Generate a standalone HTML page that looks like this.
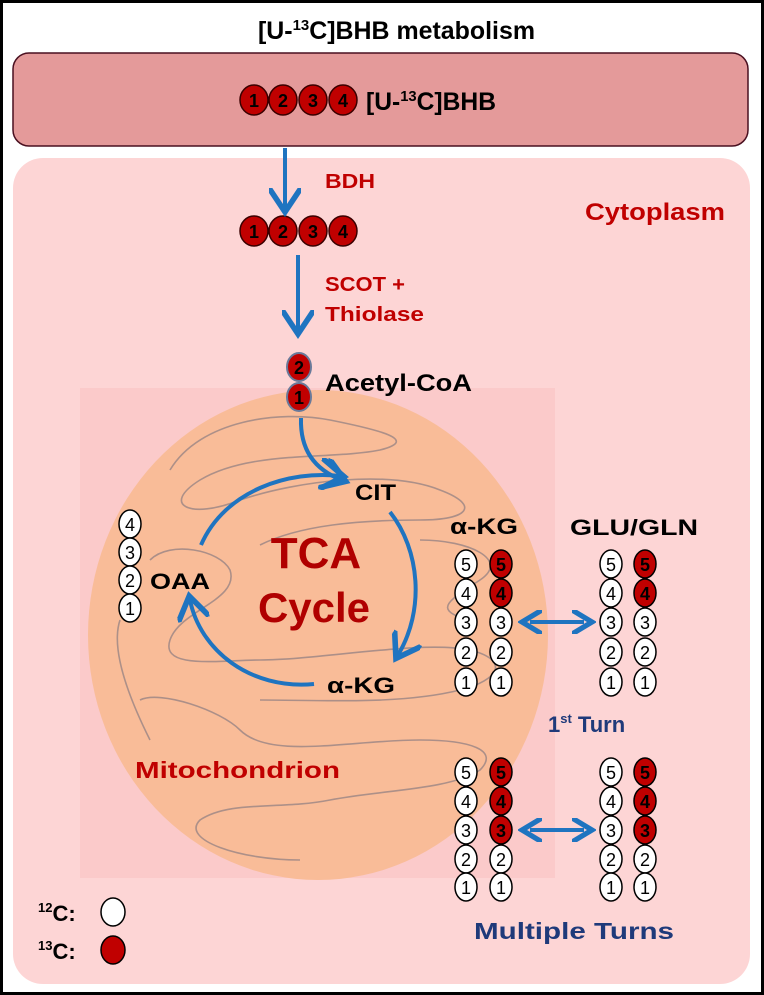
<!DOCTYPE html>
<html><head><meta charset="utf-8"><style>
html,body{margin:0;padding:0;background:#fff;}
svg{display:block;font-family:"Liberation Sans",sans-serif;font-weight:bold;}
</style></head><body>
<svg width="764" height="995" viewBox="0 0 764 995" xmlns="http://www.w3.org/2000/svg">
<defs>
<marker id="ah" markerWidth="8" markerHeight="8" refX="5" refY="4" orient="auto" markerUnits="strokeWidth">
<path d="M0,0 L6,4 L0,8" fill="none" stroke="#1f74c0" stroke-width="1.4"/>
</marker>
<marker id="ah2" markerWidth="6" markerHeight="6" refX="3" refY="3" orient="auto-start-reverse" markerUnits="strokeWidth">
<path d="M0,0 L5,3 L0,6" fill="none" stroke="#1f74c0" stroke-width="1.3"/>
</marker>
</defs>
<rect x="1.5" y="1.5" width="761" height="992" fill="#fff" stroke="#000" stroke-width="3"/>
<text x="258" y="39" font-size="25" fill="#000" textLength="277" lengthAdjust="spacingAndGlyphs">[U-<tspan font-size="15" dy="-9">13</tspan><tspan dy="9">C]BHB metabolism</tspan></text>
<rect x="13" y="53" width="735" height="93" rx="16" fill="#e49a9a" stroke="#4a1020" stroke-width="1.5"/>
<rect x="13" y="158" width="737" height="826" rx="30" fill="#fdd5d5"/>
<text x="585" y="220" font-size="24" fill="#c00000" textLength="140" lengthAdjust="spacingAndGlyphs">Cytoplasm</text>
<rect x="80" y="388" width="475" height="490" fill="#fbcaca"/>
<ellipse cx="318" cy="635" rx="230" ry="245" fill="#f9bc98"/>
<g fill="none" stroke="#9a8585" stroke-width="1.6" opacity="0.8">
<path d="M170,470 C200,420 280,410 330,420 C380,430 420,440 380,450 C330,460 250,450 200,480 C160,505 190,520 240,500 C300,480 390,470 440,490 C480,505 470,520 420,520 C360,520 300,525 260,545"/>
<path d="M150,560 C170,540 220,550 230,570 C240,600 180,610 170,640 C160,670 220,660 260,660 C320,660 420,640 470,650 C510,660 500,680 460,690 C400,705 320,700 260,700"/>
<path d="M140,700 C160,690 220,710 240,730 C270,760 350,740 420,740 C470,740 500,750 480,770 C450,790 380,790 330,800 C280,810 230,800 200,820 C180,840 240,860 300,860"/>
<path d="M420,540 C470,540 510,560 480,580 C450,600 430,610 470,620"/>
<path d="M120,620 C110,650 130,700 150,740"/>
</g>
<g font-size="18" text-anchor="middle" font-weight="bold">
<g fill="#c00000" stroke="#3a0000" stroke-width="1.5">
<ellipse cx="254" cy="100" rx="14" ry="15"/><ellipse cx="283" cy="100" rx="14" ry="15"/><ellipse cx="313" cy="100" rx="14" ry="15"/><ellipse cx="343" cy="100" rx="14" ry="15"/>
<ellipse cx="254" cy="231" rx="14" ry="15"/><ellipse cx="283" cy="231" rx="14" ry="15"/><ellipse cx="313" cy="231" rx="14" ry="15"/><ellipse cx="343" cy="231" rx="14" ry="15"/>
</g>
<g fill="#000">
<text x="254" y="107">1</text><text x="283" y="107">2</text><text x="313" y="107">3</text><text x="343" y="107">4</text>
<text x="254" y="238">1</text><text x="283" y="238">2</text><text x="313" y="238">3</text><text x="343" y="238">4</text>
</g>
<g fill="#c00000" stroke="#6a7a9a" stroke-width="2">
<ellipse cx="299" cy="367" rx="12" ry="14"/><ellipse cx="299" cy="397" rx="12" ry="14"/>
</g>
<text x="299" y="374" fill="#000">2</text><text x="299" y="404" fill="#000">1</text>
</g>
<text x="366" y="110" font-size="25" fill="#000" textLength="130" lengthAdjust="spacingAndGlyphs">[U-<tspan font-size="15" dy="-9">13</tspan><tspan dy="9">C]BHB</tspan></text>
<text x="325" y="391" font-size="24" fill="#000" textLength="147" lengthAdjust="spacingAndGlyphs">Acetyl-CoA</text>
<g stroke="#1f74c0" stroke-width="4" fill="none">
<line x1="285" y1="148" x2="285" y2="208" marker-end="url(#ah)"/>
<line x1="298" y1="255" x2="298" y2="330" marker-end="url(#ah)"/>
<path d="M301,418 C300,450 315,470 342,480" marker-end="url(#ah)"/>
<path d="M201,545 C225,490 290,470 340,476" marker-end="url(#ah)"/>
<path d="M390,512 C420,550 425,610 398,655" marker-end="url(#ah)"/>
<path d="M314,684 C250,690 200,650 190,600" marker-end="url(#ah)"/>
<line x1="530" y1="622" x2="584" y2="622" marker-start="url(#ah2)" marker-end="url(#ah2)"/>
<line x1="530" y1="830" x2="584" y2="830" marker-start="url(#ah2)" marker-end="url(#ah2)"/>
</g>
<text x="325" y="188" font-size="20" fill="#c00000" textLength="50" lengthAdjust="spacingAndGlyphs">BDH</text>
<text x="325" y="291" font-size="20" fill="#c00000" textLength="80" lengthAdjust="spacingAndGlyphs">SCOT +</text>
<text x="325" y="321" font-size="20" fill="#c00000" textLength="99" lengthAdjust="spacingAndGlyphs">Thiolase</text>
<text x="355" y="500" font-size="22" fill="#000" textLength="41" lengthAdjust="spacingAndGlyphs">CIT</text>
<text x="316" y="568" font-size="44" fill="#b00000" text-anchor="middle">TCA</text>
<text x="314" y="622" font-size="42" fill="#b00000" text-anchor="middle">Cycle</text>
<text x="150" y="589" font-size="22" fill="#000" textLength="60" lengthAdjust="spacingAndGlyphs">OAA</text>
<text x="327" y="693" font-size="22" fill="#000" textLength="68" lengthAdjust="spacingAndGlyphs">α-KG</text>
<text x="450" y="534" font-size="22" fill="#000" textLength="68" lengthAdjust="spacingAndGlyphs">α-KG</text>
<text x="570" y="535" font-size="22" fill="#000" textLength="128" lengthAdjust="spacingAndGlyphs">GLU/GLN</text>
<text x="548" y="732" font-size="22" fill="#1f3a7a">1<tspan font-size="13" dy="-9">st</tspan><tspan dy="9"> Turn</tspan></text>
<text x="135" y="778" font-size="23" fill="#c00000" textLength="205" lengthAdjust="spacingAndGlyphs">Mitochondrion</text>
<text x="474" y="939" font-size="23" fill="#1f3a7a" textLength="200" lengthAdjust="spacingAndGlyphs">Multiple Turns</text>
<text x="38" y="921" font-size="22" fill="#000"><tspan font-size="13" dy="-9">12</tspan><tspan dy="9">C:</tspan></text>
<text x="38" y="959" font-size="22" fill="#000"><tspan font-size="13" dy="-9">13</tspan><tspan dy="9">C:</tspan></text>
<ellipse cx="113" cy="912" rx="12" ry="14" fill="#fff" stroke="#000" stroke-width="1.5"/>
<ellipse cx="113" cy="950" rx="12" ry="14" fill="#c00000" stroke="#000" stroke-width="1.5"/>
<g font-size="18" text-anchor="middle" stroke-width="1.5">
<g stroke="#000" fill="#fff">
<ellipse cx="130" cy="524" rx="11" ry="14"/><ellipse cx="130" cy="552" rx="11" ry="14"/><ellipse cx="130" cy="580" rx="11" ry="14"/><ellipse cx="130" cy="608" rx="11" ry="14"/>
</g>
<g fill="#000" font-weight="normal"><text x="130" y="531">4</text><text x="130" y="559">3</text><text x="130" y="587">2</text><text x="130" y="615">1</text></g>
</g>
<g font-size="18" text-anchor="middle" font-weight="normal">
<g stroke="#000" stroke-width="1.5">
<g fill="#fff"><ellipse cx="466" cy="564" rx="11" ry="14"/><ellipse cx="466" cy="593" rx="11" ry="14"/><ellipse cx="466" cy="622" rx="11" ry="14"/><ellipse cx="466" cy="652" rx="11" ry="14"/><ellipse cx="466" cy="682" rx="11" ry="14"/>
<ellipse cx="501" cy="622" rx="11" ry="14"/><ellipse cx="501" cy="652" rx="11" ry="14"/><ellipse cx="501" cy="682" rx="11" ry="14"/>
<ellipse cx="611" cy="564" rx="11" ry="14"/><ellipse cx="611" cy="593" rx="11" ry="14"/><ellipse cx="611" cy="622" rx="11" ry="14"/><ellipse cx="611" cy="652" rx="11" ry="14"/><ellipse cx="611" cy="682" rx="11" ry="14"/>
<ellipse cx="645" cy="622" rx="11" ry="14"/><ellipse cx="645" cy="652" rx="11" ry="14"/><ellipse cx="645" cy="682" rx="11" ry="14"/>
<ellipse cx="466" cy="772" rx="11" ry="14"/><ellipse cx="466" cy="801" rx="11" ry="14"/><ellipse cx="466" cy="830" rx="11" ry="14"/><ellipse cx="466" cy="859" rx="11" ry="14"/><ellipse cx="466" cy="887" rx="11" ry="14"/>
<ellipse cx="501" cy="859" rx="11" ry="14"/><ellipse cx="501" cy="887" rx="11" ry="14"/>
<ellipse cx="611" cy="772" rx="11" ry="14"/><ellipse cx="611" cy="801" rx="11" ry="14"/><ellipse cx="611" cy="830" rx="11" ry="14"/><ellipse cx="611" cy="859" rx="11" ry="14"/><ellipse cx="611" cy="887" rx="11" ry="14"/>
<ellipse cx="645" cy="859" rx="11" ry="14"/><ellipse cx="645" cy="887" rx="11" ry="14"/>
</g>
<g fill="#c00000"><ellipse cx="501" cy="564" rx="11" ry="14"/><ellipse cx="501" cy="593" rx="11" ry="14"/>
<ellipse cx="645" cy="564" rx="11" ry="14"/><ellipse cx="645" cy="593" rx="11" ry="14"/>
<ellipse cx="501" cy="772" rx="11" ry="14"/><ellipse cx="501" cy="801" rx="11" ry="14"/><ellipse cx="501" cy="830" rx="11" ry="14"/>
<ellipse cx="645" cy="772" rx="11" ry="14"/><ellipse cx="645" cy="801" rx="11" ry="14"/><ellipse cx="645" cy="830" rx="11" ry="14"/></g>
</g>
<g fill="#000">
<text x="466" y="571">5</text><text x="466" y="600">4</text><text x="466" y="629">3</text><text x="466" y="659">2</text><text x="466" y="689">1</text>
<text x="501" y="571" font-weight="bold">5</text><text x="501" y="600" font-weight="bold">4</text><text x="501" y="629">3</text><text x="501" y="659">2</text><text x="501" y="689">1</text>
<text x="611" y="571">5</text><text x="611" y="600">4</text><text x="611" y="629">3</text><text x="611" y="659">2</text><text x="611" y="689">1</text>
<text x="645" y="571" font-weight="bold">5</text><text x="645" y="600" font-weight="bold">4</text><text x="645" y="629">3</text><text x="645" y="659">2</text><text x="645" y="689">1</text>
<text x="466" y="779">5</text><text x="466" y="808">4</text><text x="466" y="837">3</text><text x="466" y="866">2</text><text x="466" y="894">1</text>
<text x="501" y="779" font-weight="bold">5</text><text x="501" y="808" font-weight="bold">4</text><text x="501" y="837" font-weight="bold">3</text><text x="501" y="866">2</text><text x="501" y="894">1</text>
<text x="611" y="779">5</text><text x="611" y="808">4</text><text x="611" y="837">3</text><text x="611" y="866">2</text><text x="611" y="894">1</text>
<text x="645" y="779" font-weight="bold">5</text><text x="645" y="808" font-weight="bold">4</text><text x="645" y="837" font-weight="bold">3</text><text x="645" y="866">2</text><text x="645" y="894">1</text>
</g>
</g>
</svg>
</body></html>
